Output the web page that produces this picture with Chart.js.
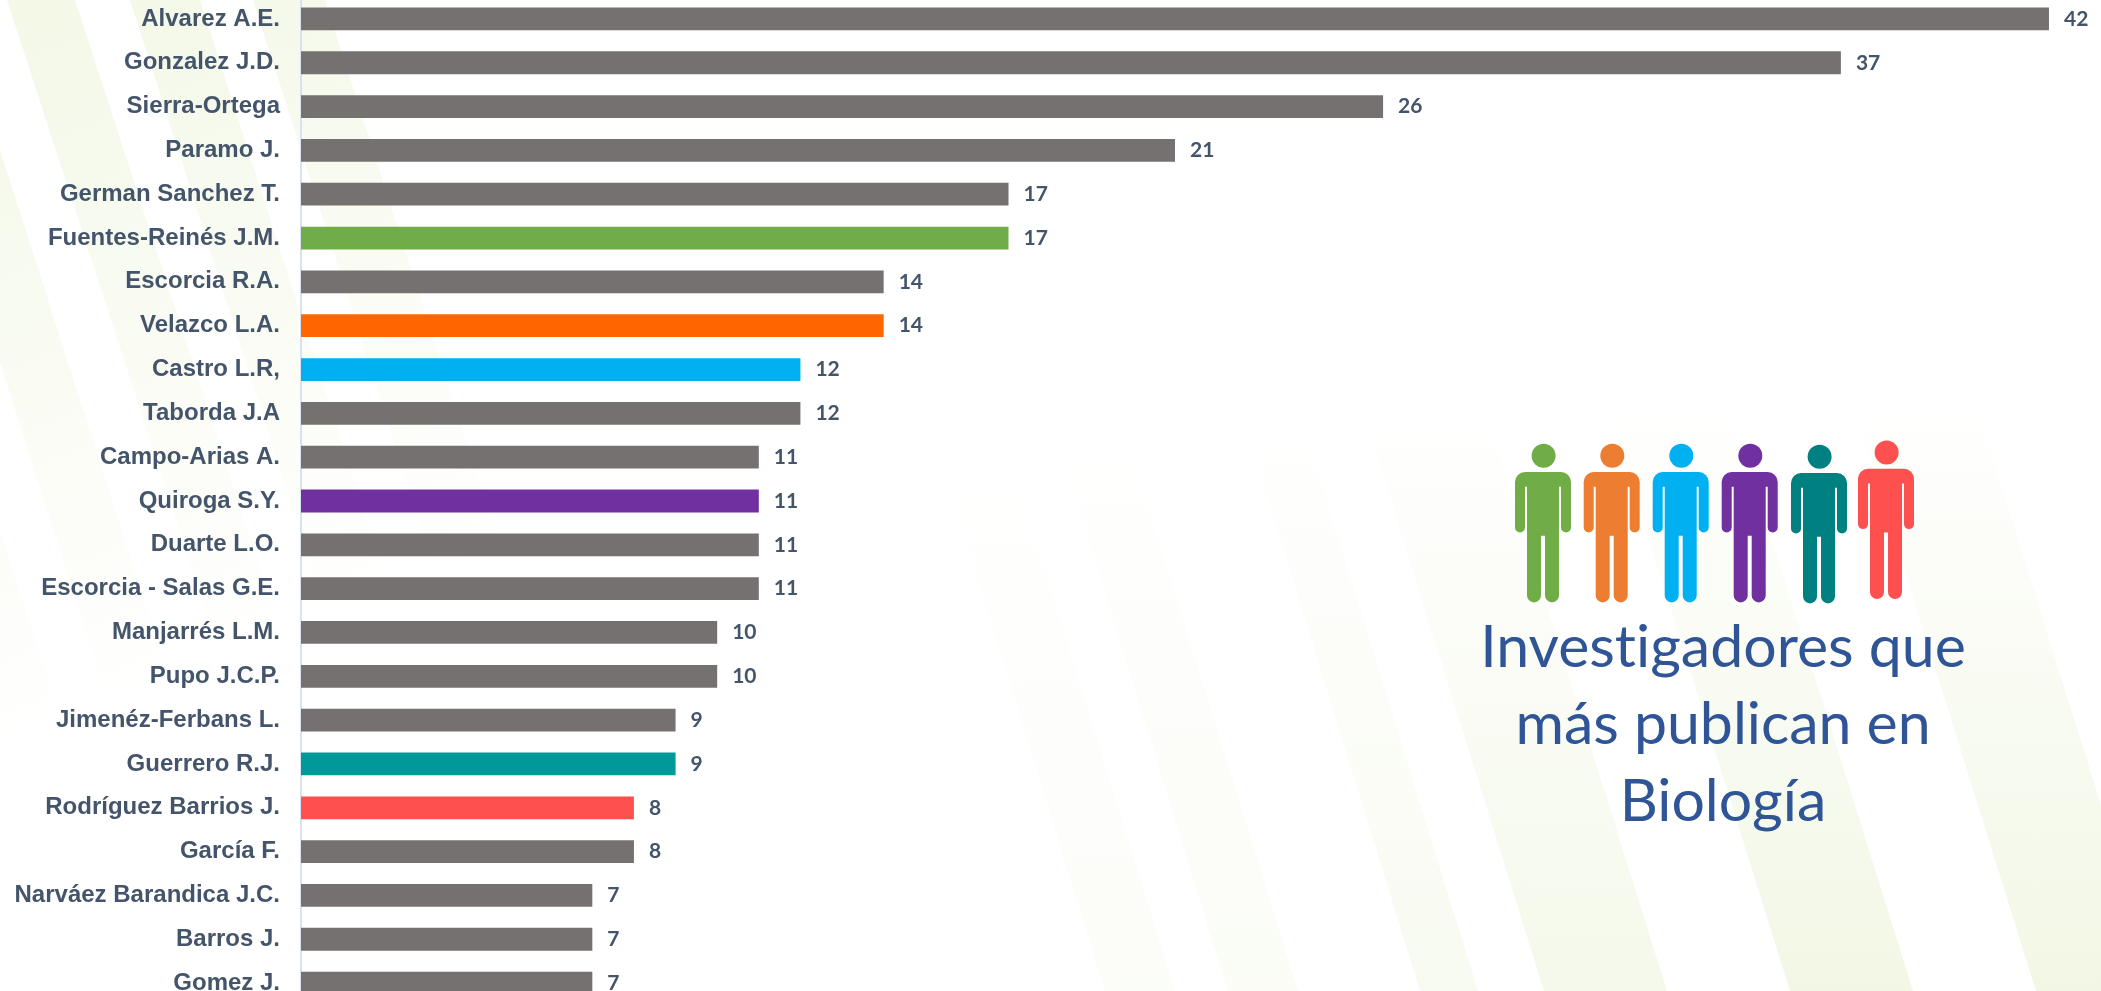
<!DOCTYPE html>
<html>
<head>
<meta charset="utf-8">
<script src="https://cdn.jsdelivr.net/npm/chart.js@4"></script>
<style>
    html, body { margin: 0; padding: 0; background: #fff; overflow: hidden; }
    #page { position: relative; width: 2101px; height: 991px; overflow: hidden; }
    #bg, #people { position: absolute; left: 0; top: 0; }
    #bar-chart { position: absolute; left: 0; top: -3px; }
    .title-line { position: absolute; left: 1423px; width: 600px; text-align: center; font: 400 59px/70px Lato, sans-serif; font-variant-ligatures: none; color: #2F5597; white-space: nowrap; }
</style>
</head>
<body>
<div id="page">
    <svg id="bg" width="2101" height="991">
        <defs>
            <linearGradient id="fadeLeft" gradientUnits="userSpaceOnUse" x1="40" y1="0" x2="300" y2="640">
                <stop offset="0" stop-color="#F3F8E7"/>
                <stop offset="0.55" stop-color="#FAFCF4"/>
                <stop offset="1" stop-color="#FFFFFF"/>
            </linearGradient>
            <linearGradient id="fadeRight" gradientUnits="userSpaceOnUse" x1="0" y1="991" x2="0" y2="400">
                <stop offset="0" stop-color="#F2F7E5"/>
                <stop offset="0.6" stop-color="#FAFCF5"/>
                <stop offset="1" stop-color="#FFFFFF"/>
            </linearGradient>
        </defs>
        <g fill="url(#fadeLeft)">
            <polygon points="7,0 75,0 400,1000 332,1000"/>
            <polygon points="130,0 200,0 520,1000 450,1000"/>
            <polygon points="253,0 325,0 645,1000 573,1000"/>
            <polygon points="-116,0 -48,0 272,1000 204,1000"/>
            <polygon points="-240,0 -170,0 150,1000 80,1000"/>
        </g>
        <g fill="url(#fadeRight)">
            <polygon opacity="0.25" points="1105,991 1175,991 1005,441 935,441"/>
            <polygon opacity="0.35" points="1228,991 1298,991 1128,441 1058,441"/>
            <polygon opacity="0.55" points="1420,991 1478,991 1280,350 1222,350"/>
            <polygon opacity="0.8" points="1544,991 1667,991 1420,200 1297,200"/>
            <polygon points="1790,991 1913,991 1666,200 1543,200"/>
            <polygon points="2036,991 2159,991 1912,200 1789,200"/>
        </g>
    </svg>
    <canvas id="bar-chart" width="2101" height="1008"></canvas>
    <svg id="people" width="2101" height="991">
        <defs>
            <g id="person">
                <circle cx="0.6" cy="0" r="12"/>
                <path d="M-28,26.3 a10,10 0 0 1 10,-10 H18 a10,10 0 0 1 10,10 V71.7 a5,5 0 0 1 -10,0 V31 H16 V139.7 a7,7 0 0 1 -14,0 V80 H-2 V139.7 a7,7 0 0 1 -14,0 V31 H-18 V71.7 a5,5 0 0 1 -10,0 Z"/>
            </g>
        </defs>
        <use href="#person" x="1543" y="455.7" fill="#70AD47"/>
        <use href="#person" x="1611.7" y="455.7" fill="#ED7D31"/>
        <use href="#person" x="1680.7" y="455.7" fill="#00B0F0"/>
        <use href="#person" x="1749.7" y="455.7" fill="#7030A0"/>
        <use href="#person" x="1819" y="456.7" fill="#008080"/>
        <use href="#person" x="1886" y="452.4" fill="#FF5050"/>
    </svg>
    <div class="title-line" style="top:610px">Investigadores que</div>
    <div class="title-line" style="top:687px">más publican en</div>
    <div class="title-line" style="top:764px">Biología</div>
</div>
<script>
    const categories = ['Alvarez A.E.', 'Gonzalez J.D.', 'Sierra-Ortega', 'Paramo J.', 'German Sanchez T.',
        'Fuentes-Reinés J.M.', 'Escorcia R.A.', 'Velazco L.A.', 'Castro L.R,', 'Taborda J.A',
        'Campo-Arias A.', 'Quiroga S.Y.', 'Duarte L.O.', 'Escorcia - Salas G.E.', 'Manjarrés L.M.',
        'Pupo J.C.P.', 'Jimenéz-Ferbans L.', 'Guerrero R.J.', 'Rodríguez Barrios J.', 'García F.',
        'Narváez Barandica J.C.', 'Barros J.', 'Gomez J.'];
    const publications = [42, 37, 26, 21, 17, 17, 14, 14, 12, 12, 11, 11, 11, 11, 10, 10, 9, 9, 8, 8, 7, 7, 7];

    const barGrey = '#767171';
    const highlighted = {
        'Fuentes-Reinés J.M.': '#70AD47',
        'Velazco L.A.': '#FF6600',
        'Castro L.R,': '#00B0F0',
        'Quiroga S.Y.': '#7030A0',
        'Guerrero R.J.': '#009999',
        'Rodríguez Barrios J.': '#FF5050'
    };
    const barColors = categories.map(function (name) { return highlighted[name] || barGrey; });

    // numbers at the end of each bar
    const valueLabels = {
        id: 'valueLabels',
        afterDatasetsDraw: function (chart) {
            const ctx = chart.ctx;
            ctx.save();
            ctx.font = 'bold 21px Lato';
            ctx.fillStyle = '#44546A';
            ctx.textAlign = 'left';
            ctx.textBaseline = 'middle';
            chart.getDatasetMeta(0).data.forEach(function (bar, i) {
                ctx.fillText(publications[i], bar.x + 15, bar.y);
            });
            ctx.restore();
        }
    };

    new Chart(document.getElementById('bar-chart'), {
        type: 'bar',
        data: {
            labels: categories,
            datasets: [{
                data: publications,
                backgroundColor: barColors,
                barPercentage: 0.52,
                categoryPercentage: 1
            }]
        },
        options: {
            indexAxis: 'y',
            responsive: false,
            animation: false,
            layout: { padding: 0 },
            plugins: {
                legend: { display: false },
                tooltip: { enabled: false }
            },
            scales: {
                x: { display: false, min: 0, max: 43.25 },
                y: {
                    afterFit: function (scale) {
                        scale.width = 301;
                        scale.paddingTop = 0;
                        scale.paddingBottom = 0;
                    },
                    grid: { display: false, drawTicks: false },
                    border: { display: true, color: '#D9E2F3', width: 2 },
                    ticks: {
                        autoSkip: false,
                        padding: 21,
                        color: '#44546A',
                        font: { family: '"Liberation Sans"', size: 24, weight: 'bold' }
                    }
                }
            }
        },
        plugins: [valueLabels]
    });
</script>
</body>
</html>
